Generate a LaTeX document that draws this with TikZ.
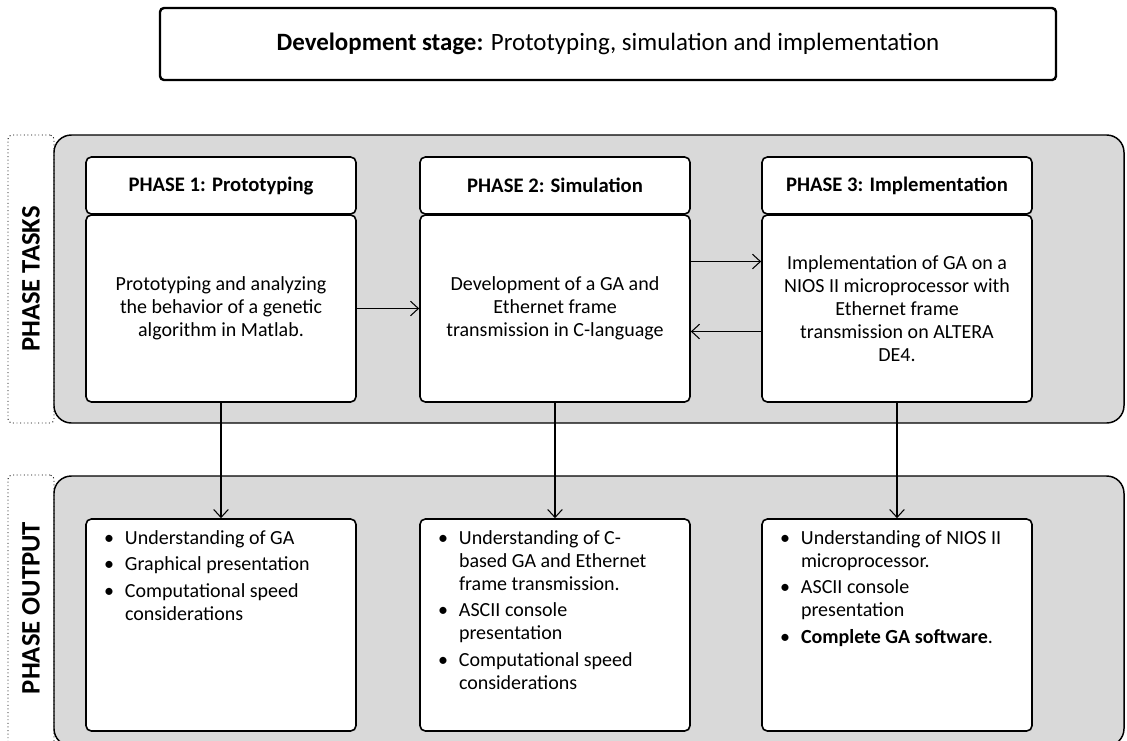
\documentclass[tikz,border=0pt]{standalone}
\usepackage{fontspec}
\setmainfont{Carlito}
\usetikzlibrary{arrows.meta,calc}
\definecolor{panelgray}{HTML}{D9D9D9}
\newcommand\bodyfont{\fontsize{15pt}{17.25pt}\selectfont}
\newcommand\headfont{\fontsize{15.5pt}{18pt}\selectfont\bfseries}
\begin{document}
\begin{tikzpicture}[x=0.75pt,y=-0.75pt,
  sz/.style 2 args={minimum width=#1*0.75pt, minimum height=#2*0.75pt},
  panel/.style={draw=black, line width=1.1pt, fill=panelgray, rounded corners=13pt, inner sep=0pt},
  sidebox/.style={draw=black, line width=0.7pt, dotted, rounded corners=3pt, inner sep=0pt},
  sidelabel/.style={rotate=90, font=\fontsize{20pt}{23pt}\selectfont\bfseries},
  topbox/.style={draw=black, line width=1.8pt, fill=white, rounded corners=3pt, inner sep=0pt,
    font=\fontsize{18.7pt}{22pt}\selectfont},
  headbox/.style={draw=black, line width=1.2pt, fill=white, rounded corners=4pt, inner sep=0pt, font=\headfont},
  taskbox/.style={draw=black, line width=1.2pt, fill=white, rounded corners=4pt, inner sep=0pt,
    align=center, font=\bodyfont},
  outbox/.style={draw=black, line width=1.2pt, fill=white, rounded corners=4pt, inner sep=0pt, font=\bodyfont},
  conn/.style={draw=black, line width=0.8pt, -{Straight Barb[length=6pt,width=11pt]}}
]
\useasboundingbox (0,0) rectangle (1127,740);

% top box
\node[topbox, sz={896}{72}] (top) at (608,44) {\textbf{Development stage:} Prototyping, simulation and implementation};

% panels
\node[panel, sz={1070}{288}] (ptasks) at (589,279) {};
\node[panel, sz={1070}{270}] (pout) at (589,611) {};

% side labels
\node[sidebox, sz={46}{288}] (stasks) at (31,279) {};
\node[sidelabel] (ltasks) at (stasks.center) {PHASE TASKS};
\node[sidebox, sz={46}{270}] (sout) at (31,610) {};
\node[sidelabel] (lout) at (31,608) {PHASE OUTPUT};

% headers
\node[headbox, sz={270}{57}] (h1) at (221,185.5) {PHASE 1: Prototyping};
\node[headbox, sz={270}{57}] (h2) at (555,185.5) {PHASE 2: Simulation};
\node[headbox, sz={270}{57}] (h3) at (897,185.5) {PHASE 3: Implementation};

% task boxes
\node[taskbox, sz={270}{187}] (c1) at (221,308.5) {Prototyping and analyzing\\the behavior of a genetic\\algorithm in Matlab.};
\node[taskbox, sz={270}{187}] (c2) at (555,308.5) {Development of a GA and\\Ethernet frame\\transmission in C-language};
\node[taskbox, sz={270}{187}] (c3) at (897,308.5) {Implementation of GA on a\\NIOS II microprocessor with\\Ethernet frame\\transmission on ALTERA\\DE4.};

% output boxes
\node[outbox] (o1) at (221,625) {\parbox[t][159pt][t]{202.5pt}{\vspace*{7pt}\hspace*{13.5pt}\begin{tabular}[t]{@{}p{15.75pt}@{}l@{}}
\textbullet & Understanding of GA\\[2.5pt]
\textbullet & Graphical presentation\\[2.5pt]
\textbullet & Computational speed\\
 & considerations
\end{tabular}}};
\node[outbox] (o2) at (555,625) {\parbox[t][159pt][t]{202.5pt}{\vspace*{7pt}\hspace*{13.5pt}\begin{tabular}[t]{@{}p{15.75pt}@{}l@{}}
\textbullet & Understanding of C-\\
 & based GA and Ethernet\\
 & frame transmission.\\[2.5pt]
\textbullet & ASCII console\\
 & presentation\\[2.5pt]
\textbullet & Computational speed\\
 & considerations
\end{tabular}}};
\node[outbox] (o3) at (897,625) {\parbox[t][159pt][t]{202.5pt}{\vspace*{7pt}\hspace*{13.5pt}\begin{tabular}[t]{@{}p{15.75pt}@{}l@{}}
\textbullet & Understanding of NIOS II\\
 & microprocessor.\\[2.5pt]
\textbullet & ASCII console\\
 & presentation\\[2.5pt]
\textbullet & \textbf{Complete GA software}.
\end{tabular}}};

% connectors
\draw[conn] (c1.east) -- (c2.west);
\draw[conn] ([yshift=47*0.75pt]c2.east) -- ([yshift=47*0.75pt]c3.west);
\draw[conn] ([yshift=-23*0.75pt]c3.west) -- ([yshift=-23*0.75pt]c2.east);
\draw[conn] (c1.south) -- (o1.north);
\draw[conn] (c2.south) -- (o2.north);
\draw[conn] (c3.south) -- (o3.north);
\end{tikzpicture}
\end{document}
